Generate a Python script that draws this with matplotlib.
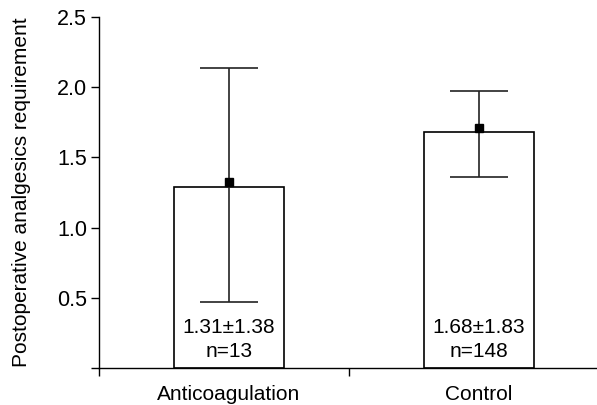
#!/usr/bin/env python
"""Postoperative analgesics requirement: anticoagulation vs control."""

import matplotlib
matplotlib.use("Agg")
import matplotlib.pyplot as plt
import numpy as np

plt.rcParams["font.family"] = ["Liberation Sans", "DejaVu Sans"]

groups = ["Anticoagulation", "Control"]
bar_heights = [1.29, 1.68]
means = [1.325, 1.71]
err_low = [0.47, 1.36]
err_high = [2.135, 1.975]
stats_text = ["1.31\u00b11.38", "1.68\u00b11.83"]
n_text = ["n=13", "n=148"]
yticks = [0, 0.5, 1.0, 1.5, 2.0, 2.5]
yticklabels = ["", "0.5", "1.0", "1.5", "2.0", "2.5"]

FS = 15

fig = plt.figure(figsize=(5.97, 4.05), dpi=100)
ax = fig.add_axes([0.1658, 0.0914, 0.8375, 0.8667])

x = np.arange(len(groups)) + 0.52
ax.bar(x, bar_heights, width=0.44, color="white", edgecolor="black", linewidth=1.2, zorder=2)

means = np.array(means)
yerr = np.array([means - np.array(err_low), np.array(err_high) - means])
ax.errorbar(x, means, yerr=yerr, fmt="s", color="black", ecolor="#222222",
            markersize=5.5, elinewidth=1.2, capsize=21, capthick=1.2, zorder=3)

for xi, s, n in zip(x, stats_text, n_text):
    ax.text(xi, 0.29, s, ha="center", va="center", fontsize=FS, zorder=4)
    ax.text(xi, 0.115, n, ha="center", va="center", fontsize=FS, zorder=4)

ax.set_xlim(0, 2)
ax.set_ylim(0, 2.5)
ax.set_xticks([0, 1, 2])
ax.set_xticklabels([])
ax.set_xticks(x, minor=True)
ax.set_xticklabels(groups, minor=True, fontsize=FS)
ax.tick_params(axis="x", which="minor", length=0, pad=12)
ax.tick_params(axis="x", which="major", length=5.5, width=1)
ax.set_yticks(yticks)
ax.set_yticklabels(yticklabels, fontsize=15.5)
ax.tick_params(axis="y", length=5.5, width=1, pad=3)
ax.set_ylabel("Postoperative analgesics requirement", fontsize=FS, labelpad=19)

for side in ["top", "right"]:
    ax.spines[side].set_visible(False)
ax.spines["left"].set_linewidth(1)
ax.spines["bottom"].set_linewidth(1)

plt.savefig("out.png", dpi=100)
print("Saved: out.png")
